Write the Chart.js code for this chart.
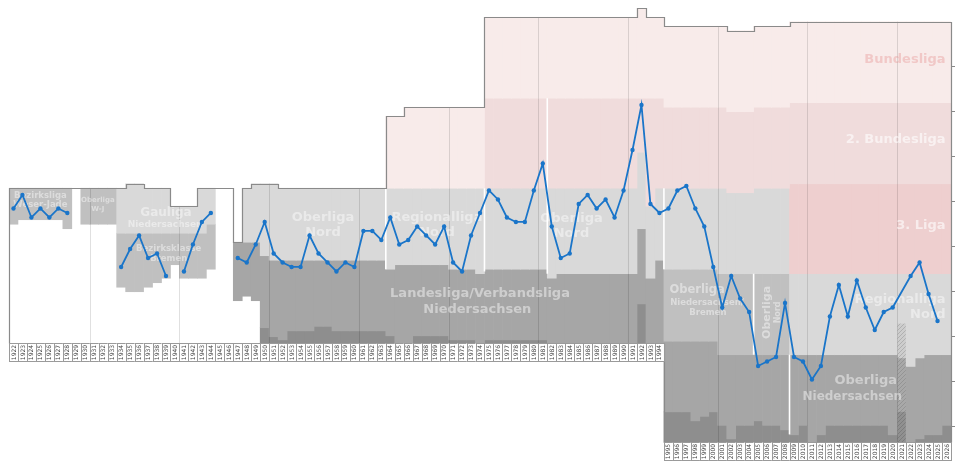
<!DOCTYPE html>
<html><head><meta charset="utf-8">
<script src="https://cdn.jsdelivr.net/npm/chart.js@4.4.1/dist/chart.umd.min.js"></script>
<style>html,body{margin:0;padding:0;background:#fff;}#wrap{width:960px;height:466px;}</style>
</head><body><div id="wrap"><canvas id="c" width="960" height="466"></canvas></div>
<script>
// ---------- DATA ----------
const years = [];
for (let y = 1922; y <= 2026; y++) years.push(y);

// League position, expressed as overall rank in the league pyramid (null = no season)
const positions = [
  41.5,38.5,43.5,41.5,43.5,41.5,42.5,null,null,null,          // 1922-1931
  null,null,54.5,50.5,47.5,52.5,51.5,56.5,null,55.5,          // 1932-1941
  49.5,44.5,42.5,null,null,52.5,53.5,49.5,44.5,51.5,          // 1942-1951
  53.5,54.5,54.5,47.5,51.5,53.5,55.5,53.5,54.5,46.5,          // 1952-1961
  46.5,48.5,43.5,49.5,48.5,45.5,47.5,49.5,45.5,53.5,          // 1962-1971
  55.5,47.5,42.5,37.5,39.5,43.5,44.5,44.5,37.5,31.5,          // 1972-1981
  45.5,52.5,51.5,40.5,38.5,41.5,39.5,43.5,37.5,28.5,          // 1982-1991
  18.5,40.5,42.5,41.5,37.5,36.5,41.5,45.5,54.5,63.5,          // 1992-2001
  56.5,61.5,64.5,76.5,75.5,74.5,62.5,74.5,75.5,79.5,          // 2002-2011
  76.5,65.5,58.5,65.5,57.5,63.5,68.5,64.5,63.5,null,          // 2012-2021
  56.5,53.5,60.5,66.5,null                                    // 2022-2026
];

// League bands: [firstYear, lastYear, topRank, bottomRank]
const bundesliga = [[1964,1965,21,37],[1966,1974,19,37],[1975,1991,-1,17],[1992,1992,-3,17],[1993,1994,-1,17],
  [1995,2001,1,19],[2002,2004,2,20],[2005,2008,1,19],[2009,2026,0,18]];
const zweiteBundesliga = [[1975,1991,17,37],[1992,1992,17,29],[1993,1993,17,41],[1994,1994,17,37],
  [1995,2001,19,37],[2002,2004,20,38],[2005,2008,19,37],[2009,2026,18,36]];
const dritteLiga = [[2009,2026,36,56]];
const tierLight = [[1934,1934,37,47],[1935,1936,36,47],[1937,1939,37,47],[1940,1942,41,47],[1943,1943,37,47],[1944,1944,37,45],
  [1948,1948,37,49],[1949,1949,36,49],[1950,1950,36,52],[1951,1951,36,53],[1952,1963,37,53],[1964,1964,37,55],
  [1965,1970,37,54],[1971,1973,37,55],[1974,1974,37,56],[1975,1981,37,55],[1982,1982,37,57],[1983,1991,37,56],
  [1992,1992,29,46],[1993,1993,41,57],[1994,1994,37,53],[1995,2000,37,55],[2001,2001,37,56],[2002,2004,38,56],
  [2005,2008,37,56],[2009,2020,56,74],[2021,2021,56,67],[2022,2022,56,76.6],[2023,2023,56,74.7],[2024,2026,56,74]];
const tierMidLight = [[1922,1922,37,45],[1923,1927,37,44],[1928,1928,37,46],[1930,1933,37,45],
  [1934,1934,47,59],[1935,1936,47,60],[1937,1937,47,59],[1938,1938,47,58],[1939,1939,47,57],[1940,1940,47,54],
  [1941,1943,47,57],[1944,1944,45,55],[1995,2000,55,71],[2001,2008,56,74]];
const tierMid = [[1947,1947,49,62],[1948,1948,49,61],[1949,1949,49,62],[1950,1950,52,68],[1951,1951,53,70],
  [1952,1952,53,70.7],[1953,1955,53,68.7],[1956,1957,53,67.7],[1958,1963,53,68.7],[1964,1964,55,69.8],
  [1965,1966,54,71.5],[1967,1970,54,69.8],[1971,1973,55,70.7],[1974,1974,56,71.5],[1975,1981,55,70.7],
  [1982,1982,57,71.5],[1983,1991,56,71.5],[1992,1992,46,62.7],[1993,1993,57,71.5],[1994,1994,53,71.5],
  [1995,1997,71,86.7],[1998,1998,71,88.7],[1999,1999,71,87.7],[2000,2000,71,86.7],[2001,2001,74,89.7],
  [2002,2002,74,92.7],[2003,2004,74,89.7],[2005,2005,74,88.7],[2006,2007,74,89.7],[2008,2008,74,90.7],
  [2009,2009,74,91.8],[2010,2010,74,89.7],[2011,2011,74,93.5],[2012,2012,74,91.8],[2013,2019,74,89.7],
  [2020,2020,74,91.8],[2022,2022,76.6,93.5],[2023,2023,74.7,92.7],[2024,2025,74,91.8],[2026,2026,74,89.7]];
const tierDark = [[1950,1950,68,71.5],[1951,1951,70,71.5],[1952,1952,70.7,71.5],[1953,1955,68.7,71.5],
  [1956,1957,67.7,71.5],[1958,1963,68.7,71.5],[1964,1964,69.8,71.5],[1967,1970,69.8,71.5],[1971,1973,70.7,71.5],
  [1975,1981,70.7,71.5],[1992,1992,62.7,71.5],
  [1995,1997,86.7,93.5],[1998,1998,88.7,93.5],[1999,1999,87.7,93.5],[2000,2000,86.7,93.5],[2001,2001,89.7,93.5],
  [2002,2002,92.7,93.5],[2003,2004,89.7,93.5],[2005,2005,88.7,93.5],[2006,2007,89.7,93.5],[2008,2008,90.7,93.5],
  [2009,2009,91.8,93.5],[2010,2010,89.7,93.5],[2012,2012,91.8,93.5],[2013,2019,89.7,93.5],[2020,2020,91.8,93.5],
  [2023,2023,92.7,93.5],[2024,2025,91.8,93.5],[2026,2026,89.7,93.5]];
const abandoned2021 = [[2021,2021,67,74.7]];
const abandoned2021Mid = [[2021,2021,74.7,86.6]];
const abandoned2021Dark = [[2021,2021,86.6,93.5]];

// pyramid depth (bottom rank shown) before / from 1995
const depthBefore1995 = 71.5;
const depthFrom1995 = 93.5;

// ---------- STYLE / LAYOUT ----------
const BLUE = '#1a75c9';
const COL = {pink1:'#f8ebea', pink2:'#f0dcdc', pink3:'#eecfcf', light:'#d9d9d9', midLight:'#c0c0c0', mid:'#a6a6a6', dark:'#8e8e8e'};
const FONT = '"DejaVu Sans", "Liberation Sans", sans-serif';

const canvas = document.getElementById('c');
const ctx0 = canvas.getContext('2d');
function hatch(base, line) {
  const c = document.createElement('canvas'); c.width = c.height = 4;
  const g = c.getContext('2d');
  g.fillStyle = base; g.fillRect(0, 0, 4, 4);
  g.fillStyle = line; g.fillRect(0, 3, 1, 1); g.fillRect(1, 2, 1, 1); g.fillRect(2, 1, 1, 1); g.fillRect(3, 0, 1, 1);
  return ctx0.createPattern(c, 'repeat');
}

function expand(ranges) {
  const arr = years.map(() => null);
  ranges.forEach(([a, b, t, btm]) => { for (let y = a; y <= b; y++) arr[y - years[0]] = [t, btm]; });
  return arr;
}

const bandDefs = [
  ['Bundesliga', bundesliga, COL.pink1],
  ['2. Bundesliga', zweiteBundesliga, COL.pink2],
  ['3. Liga', dritteLiga, COL.pink3],
  ['light', tierLight, COL.light],
  ['midLight', tierMidLight, COL.midLight],
  ['mid', tierMid, COL.mid],
  ['dark', tierDark, COL.dark],
  ['2021a', abandoned2021, hatch('#cdcdcd', '#b0b0b0')],
  ['2021b', abandoned2021Mid, hatch('#a8a8a8', '#949494')],
  ['2021c', abandoned2021Dark, hatch('#909090', '#7c7c7c')]
];

// per-year top of pyramid (for outline); seasons without play keep the previous top
const allBands = [bundesliga, zweiteBundesliga, dritteLiga, tierLight, tierMidLight, tierMid, tierDark];
const tops = years.map(() => null);
allBands.forEach(r => r.forEach(([a, b, t]) => { for (let y = a; y <= b; y++) { const i = y - years[0]; tops[i] = tops[i] === null ? t : Math.min(tops[i], t); } }));
for (let i = 1; i < tops.length; i++) if (tops[i] === null) tops[i] = tops[i - 1];
const depthOf = y => (y < 1995 ? depthBefore1995 : depthFrom1995);

// text labels for leagues: [text, yearPos, rank, size, align, colorKey, rotate]
const leagueLabels = [
  ['Bezirksliga', 1925.0, 38.6, 8.5, 'center', 'g', 0],
  ['Weser-Jade', 1925.0, 40.7, 8.5, 'center', 'g', 0],
  ['Oberliga', 1931.4, 39.6, 7, 'center', 'g', 0],
  ['W-J', 1931.4, 41.6, 7, 'center', 'g', 0],
  ['Gauliga', 1939.0, 42.4, 12, 'center', 'g', 0],
  ['Niedersachsen', 1938.9, 45.2, 9, 'center', 'g', 0],
  ['Bezirksklasse', 1939.3, 50.4, 8.5, 'center', 'g', 0],
  ['Bremen', 1939.3, 52.7, 8.5, 'center', 'g', 0],
  ['Oberliga', 1956.5, 43.6, 13, 'center', 'g', 0],
  ['Nord', 1956.5, 46.9, 13, 'center', 'g', 0],
  ['Regionalliga', 1969.2, 43.6, 13, 'center', 'g', 0],
  ['Nord', 1969.2, 46.9, 13, 'center', 'g', 0],
  ['Landesliga/Verbandsliga', 1974.0, 60.4, 13, 'center', 'g', 0],
  ['Niedersachsen', 1973.7, 63.9, 13, 'center', 'g', 0],
  ['Oberliga', 1984.2, 43.7, 13, 'center', 'g', 0],
  ['Nord', 1984.2, 47.0, 13, 'center', 'g', 0],
  ['Bundesliga', 2025.9, 8.5, 13, 'right', 'p', 0],
  ['2. Bundesliga', 2025.9, 26.3, 13, 'right', 'w', 0],
  ['3. Liga', 2025.9, 45.4, 13, 'right', 'w', 0],
  ['Regionalliga', 2025.9, 61.7, 13, 'right', 'g', 0],
  ['Nord', 2025.9, 65.2, 13, 'right', 'g', 0],
  ['Oberliga', 1998.2, 59.6, 11.5, 'center', 'g', 0],
  ['Niedersachsen/', 1999.3, 62.4, 8.5, 'center', 'g', 0],
  ['Bremen', 1999.4, 64.7, 8.5, 'center', 'g', 0],
  ['Oberliga', 2006.0, 64.6, 11, 'center', 'g', -90],
  ['Nord', 2007.2, 64.6, 8, 'center', 'g', -90],
  ['Oberliga', 2017.0, 79.8, 13, 'center', 'g', 0],
  ['Niedersachsen', 2015.5, 83.3, 12, 'center', 'g', 0]
];
const labelColors = {g: 'rgba(255,255,255,0.45)', w: 'rgba(255,255,255,0.6)', p: 'rgba(225,120,120,0.3)'};

// white separators at league restructurings: [yearStart, rankTop, rankBottom]
const separators = [[1964, 37, 55], [1975, 37, 55.5], [1982, 17, 56], [1995, 37, 55], [2005, 56, 74], [2009, 74, 91.7]];

// ---------- PLUGIN ----------
let decoDone = false;
const deco = {
  id: 'deco',
  beforeDatasetsDraw() { decoDone = false; },
  beforeDatasetDraw(chart, args) {
    if (decoDone || args.meta.type !== 'line') return;
    decoDone = true;
    const ctx = chart.ctx, xs = chart.scales.x, ys = chart.scales.y;
    const w = (xs.right - xs.left) / years.length;
    const xL = i => xs.getPixelForValue(i) - w / 2;
    ctx.save();
    // decade lines
    ctx.strokeStyle = 'rgba(0,0,0,0.12)'; ctx.lineWidth = 1;
    years.forEach((y, i) => {
      if (y % 10 !== 1 || i === 0) return;
      const x = Math.round(xL(i)) + 0.5;
      const t = Math.min(tops[i], tops[i - 1]);
      ctx.beginPath(); ctx.moveTo(x, ys.getPixelForValue(t)); ctx.lineTo(x, ys.getPixelForValue(depthOf(y))); ctx.stroke();
    });
    // white separators
    ctx.strokeStyle = '#ffffff'; ctx.lineWidth = 1.6;
    separators.forEach(([y, a, b]) => {
      const x = xL(y - years[0]);
      ctx.beginPath(); ctx.moveTo(x, ys.getPixelForValue(a)); ctx.lineTo(x, ys.getPixelForValue(b)); ctx.stroke();
    });
    // league labels
    ctx.textBaseline = 'middle';
    leagueLabels.forEach(([t, yr, r, size, align, ck, rot]) => {
      ctx.save();
      ctx.font = 'bold ' + size + 'px ' + FONT;
      ctx.fillStyle = labelColors[ck];
      ctx.textAlign = align;
      ctx.translate(xs.getPixelForValue(yr - years[0]), ys.getPixelForValue(r));
      if (rot) ctx.rotate(rot * Math.PI / 180);
      ctx.fillText(t, 0, 0);
      ctx.restore();
    });
    // outline
    ctx.strokeStyle = '#8a8a8a'; ctx.lineWidth = 1.2;
    ctx.beginPath();
    const R = v => Math.round(v) + 0.5;
    ctx.moveTo(R(xL(0)), ys.getPixelForValue(depthOf(years[0])));
    years.forEach((y, i) => {
      const yt = R(ys.getPixelForValue(tops[i]));
      ctx.lineTo(R(xL(i)), yt); ctx.lineTo(R(xL(i) + w), yt);
    });
    ctx.lineTo(R(xL(years.length - 1) + w), ys.getPixelForValue(depthFrom1995));
    const i95 = 1995 - years[0];
    ctx.moveTo(R(xL(i95)), ys.getPixelForValue(depthBefore1995));
    ctx.lineTo(R(xL(i95)), ys.getPixelForValue(depthFrom1995));
    ctx.stroke();
    ctx.restore();
  },
  afterDraw(chart) {
    const ctx = chart.ctx, xs = chart.scales.x, ys = chart.scales.y;
    const w = (xs.right - xs.left) / years.length;
    ctx.save();
    ctx.font = '6px ' + FONT;
    ctx.textAlign = 'center'; ctx.textBaseline = 'middle';
    years.forEach((y, i) => {
      const x0 = xs.getPixelForValue(i) - w / 2;
      const yb = Math.round(ys.getPixelForValue(depthOf(y)));
      ctx.fillStyle = '#fff'; ctx.fillRect(x0, yb, w, 18.5);
      ctx.strokeStyle = '#9a9a9a'; ctx.lineWidth = 1;
      ctx.strokeRect(Math.round(x0) + 0.5, yb + 0.5, Math.round(w), 18);
      ctx.save();
      ctx.translate(xs.getPixelForValue(i), yb + 9.5);
      ctx.rotate(-Math.PI / 2);
      ctx.fillStyle = '#444';
      ctx.fillText(String(y), 0, 0.5);
      ctx.restore();
    });
    ctx.restore();
  }
};

// ---------- CHART ----------
const datasets = bandDefs.map(([label, ranges, color]) => ({
  type: 'bar', label, data: expand(ranges), backgroundColor: color, borderWidth: 0,
  grouped: false, categoryPercentage: 1, barPercentage: 1, order: 2
}));
const lineStyle = {type: 'line', borderColor: BLUE, backgroundColor: BLUE, borderWidth: 1.8,
  pointRadius: 2.2, pointBorderWidth: 0, pointHoverRadius: 0, tension: 0, order: 0};
datasets.push(Object.assign({label: 'Platzierung bis 1946', data: positions.map((v, i) => years[i] < 1947 ? v : null), spanGaps: false}, lineStyle));
datasets.push(Object.assign({label: 'Platzierung ab 1947', data: positions.map((v, i) => years[i] >= 1947 ? v : null), spanGaps: true}, lineStyle));

new Chart(canvas, {
  type: 'bar',
  data: {labels: years.map(String), datasets},
  options: {
    responsive: false, animation: false, devicePixelRatio: 1, events: [],
    layout: {padding: {top: 8, bottom: 23, left: 9, right: 4}},
    plugins: {legend: {display: false}, tooltip: {enabled: false}},
    scales: {
      x: {type: 'category', display: false, offset: true, grid: {display: false}},
      y: {type: 'linear', position: 'right', reverse: true, min: -3.05, max: 93.617,
        afterBuildTicks: s => { s.ticks = [10, 20, 30, 40, 50, 60, 70, 80, 90].map(v => ({value: v})); },
        afterFit: s => { s.width = 5; },
        ticks: {display: false},
        grid: {drawOnChartArea: false, drawTicks: true, tickLength: 4, color: '#888'},
        border: {display: false}}
    }
  },
  plugins: [deco]
});
</script>
</body></html>
